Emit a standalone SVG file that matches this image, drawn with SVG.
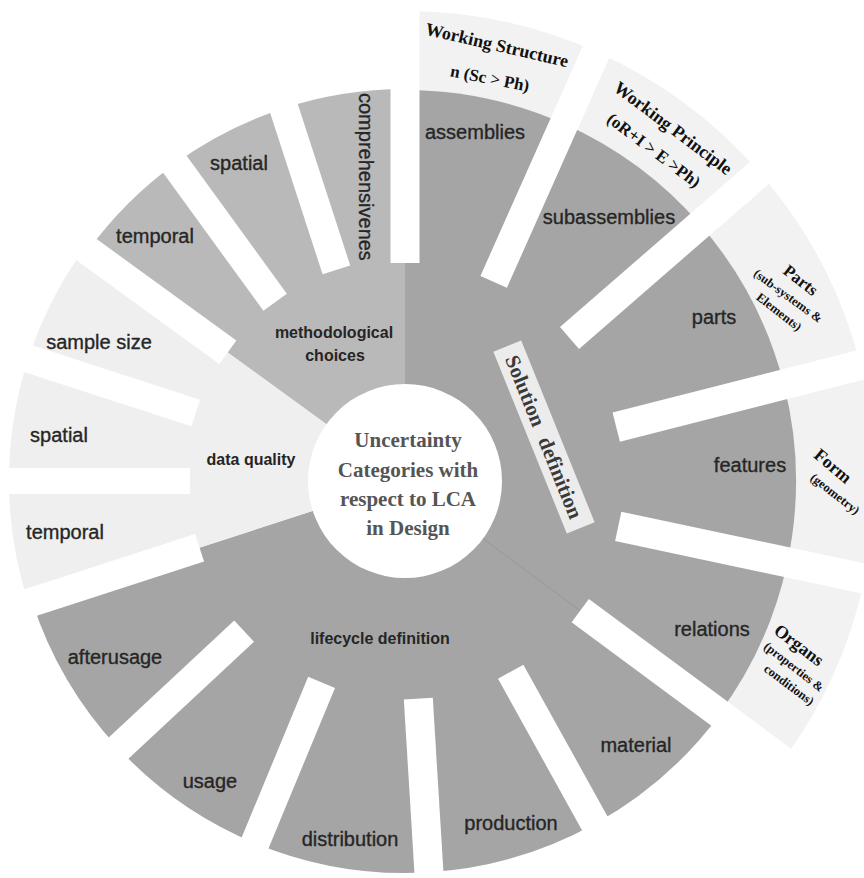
<svg xmlns="http://www.w3.org/2000/svg" width="864" height="878" viewBox="0 0 864 878">
<defs>
<style>
.dark{fill:#a5a5a5}
.mid{fill:#b9b9b9}
.light{fill:#efefef}
.hdr{fill:#f2f2f2}
.gap{fill:#ffffff}
.leaf{font-family:"Liberation Sans",Arial,sans-serif;font-size:20px;fill:#262626;stroke:#262626;stroke-width:0.35px;text-anchor:middle}
.cat{font-family:"Liberation Sans",Arial,sans-serif;font-size:16px;font-weight:bold;fill:#252525;text-anchor:middle}
.hd{font-family:"Liberation Serif","Times New Roman",serif;font-weight:bold;fill:#111111;text-anchor:middle}
.ctr{font-family:"Liberation Serif","Times New Roman",serif;font-weight:bold;font-size:21px;fill:#555555;text-anchor:middle}
</style>
<clipPath id="compClip"><rect x="320" y="60" width="90" height="209"/></clipPath>
</defs>
<rect width="864" height="878" fill="#ffffff"/>

<!-- outer header ring of solution definition -->
<g id="hdr-working-structure">
<path class="hdr" d="M405,481 L405,11 A470,470 0 0 1 596.1,51.7 Z"/>
<g transform="translate(497,45) rotate(13)"><text class="hd" font-size="18" y="6">Working Structure</text></g>
<g transform="translate(490,78) rotate(11)"><text class="hd" font-size="17" y="6">n (Sc &gt; Ph)</text></g>
</g>
<g id="hdr-working-principle">
<path class="hdr" d="M405,481 L596.1,51.7 A470,470 0 0 1 759.7,172.6 Z"/>
<g transform="translate(673,128) rotate(37)"><text class="hd" font-size="18" y="6">Working Principle</text></g>
<g transform="translate(654,150) rotate(37)"><text class="hd" font-size="17" y="6">(oR+I &gt; E &gt;Ph)</text></g>
</g>
<g id="hdr-parts">
<path class="hdr" d="M405,481 L759.7,172.6 A470,470 0 0 1 860.4,364.9 Z"/>
<g transform="translate(801,280) rotate(38)"><text class="hd" font-size="17" y="6">Parts</text></g>
<g transform="translate(788,296) rotate(36)"><text class="hd" font-size="12.5" y="4">(sub-systems &amp;</text></g>
<g transform="translate(779,312) rotate(38)"><text class="hd" font-size="12.5" y="4">Elements)</text></g>
</g>
<g id="hdr-form">
<path class="hdr" d="M405,481 L860.4,364.9 A470,470 0 0 1 864.7,578.7 Z"/>
<g transform="translate(833,466) rotate(40)"><text class="hd" font-size="18" y="6">Form</text></g>
<g transform="translate(835,494) rotate(38)"><text class="hd" font-size="12.5" y="4">(geometry)</text></g>
</g>
<g id="hdr-organs">
<path class="hdr" d="M405,481 L864.7,578.7 A470,470 0 0 1 782.8,760.6 Z"/>
<g transform="translate(799,645) rotate(37)"><text class="hd" font-size="18" y="6">Organs</text></g>
<g transform="translate(794,667) rotate(38)"><text class="hd" font-size="12.5" y="4">(properties &amp;</text></g>
<g transform="translate(789,685) rotate(37)"><text class="hd" font-size="12.5" y="4">conditions)</text></g>
</g>

<!-- solution definition leaves -->
<g id="leaf-assemblies">
<path class="dark" d="M405,481 L405,90 A391,391 0 0 1 564.0,123.8 Z"/>
<text class="leaf" x="475" y="139">assemblies</text>
</g>
<g id="leaf-subassemblies">
<path class="dark" d="M405,481 L564.0,123.8 A391,391 0 0 1 700.1,224.5 Z"/>
<text class="leaf" x="609" y="224">subassemblies</text>
</g>
<g id="leaf-parts">
<path class="dark" d="M405,481 L700.1,224.5 A391,391 0 0 1 783.9,384.4 Z"/>
<text class="leaf" x="714" y="324">parts</text>
</g>
<g id="leaf-features">
<path class="dark" d="M405,481 L783.9,384.4 A391,391 0 0 1 787.4,562.3 Z"/>
<text class="leaf" x="750" y="472">features</text>
</g>
<g id="leaf-relations">
<path class="dark" d="M405,481 L787.4,562.3 A391,391 0 0 1 719.3,713.6 Z"/>
<text class="leaf" x="712" y="636">relations</text>
</g>

<!-- lifecycle leaves -->
<g id="leaf-material">
<path class="dark" d="M405,481 L720.1,714.2 A392,392 0 0 1 595.0,823.8 Z"/>
<text class="leaf" x="636" y="752">material</text>
</g>
<g id="leaf-production">
<path class="dark" d="M405,481 L595.0,823.8 A392,392 0 0 1 428.9,872.3 Z"/>
<text class="leaf" x="511" y="830">production</text>
</g>
<g id="leaf-distribution">
<path class="dark" d="M405,481 L428.9,872.3 A392,392 0 0 1 255.0,843.2 Z"/>
<text class="leaf" x="350" y="846">distribution</text>
</g>
<g id="leaf-usage">
<path class="dark" d="M405,481 L255.0,843.2 A392,392 0 0 1 118.3,748.3 Z"/>
<text class="leaf" x="210" y="788">usage</text>
</g>
<g id="leaf-afterusage">
<path class="dark" d="M405,481 L118.3,748.3 A392,392 0 0 1 32.2,602.1 Z"/>
<text class="leaf" x="115" y="664">afterusage</text>
</g>

<!-- data quality leaves -->
<g id="leaf-dq-temporal">
<path class="light" d="M405,481 L28.4,603.4 A396,396 0 0 1 9,481 Z"/>
<text class="leaf" x="65" y="539">temporal</text>
</g>
<g id="leaf-dq-spatial">
<path class="light" d="M405,481 L9,481 A396,396 0 0 1 28.4,358.6 Z"/>
<text class="leaf" x="59" y="442">spatial</text>
</g>
<g id="leaf-sample-size">
<path class="light" d="M405,481 L28.4,358.6 A396,396 0 0 1 84.6,248.2 Z"/>
<text class="leaf" x="99" y="349">sample size</text>
</g>

<!-- methodological leaves -->
<g id="leaf-mc-temporal">
<path class="mid" d="M405,481 L87.9,250.6 A392,392 0 0 1 174.6,163.9 Z"/>
<text class="leaf" x="155" y="243">temporal</text>
</g>
<g id="leaf-mc-spatial">
<path class="mid" d="M405,481 L174.6,163.9 A392,392 0 0 1 283.9,108.2 Z"/>
<text class="leaf" x="239" y="170">spatial</text>
</g>
<g id="leaf-comprehensiveness">
<path class="mid" d="M405,481 L283.9,108.2 A392,392 0 0 1 405,89 Z"/>
<g clip-path="url(#compClip)"><text class="leaf" style="text-anchor:start" transform="translate(359,93) rotate(90)">comprehensiveness</text></g>
</g>

<!-- categories -->
<g id="cat-solution-definition">
<path class="dark" d="M405,481 L405,256 A225,225 0 0 1 585.9,614.8 Z"/>
</g>
<g id="cat-lifecycle-definition">
<path class="dark" d="M405,481 L585.9,614.8 A225,225 0 0 1 191.0,550.5 Z"/>
<line x1="483" y1="538.7" x2="580.2" y2="610.7" stroke="#8e8e8e" stroke-width="1" stroke-opacity="0.6"/>
<text class="cat" x="380" y="644">lifecycle definition</text>
</g>
<g id="cat-data-quality">
<path class="light" d="M405,481 L191.0,550.5 A225,225 0 0 1 223.0,348.7 Z"/>
<text class="cat" x="251" y="465">data quality</text>
</g>
<g id="cat-methodological-choices">
<path class="mid" d="M405,481 L223.0,348.7 A225,225 0 0 1 405,256 Z"/>
<text class="cat" x="334" y="338">methodological</text>
<text class="cat" x="335" y="361">choices</text>
</g>

<!-- white gaps between segments -->
<g id="gaps">
<rect class="gap" x="218" y="-14.5" width="300" height="29" transform="translate(405,481) rotate(-90)"/>
<rect class="gap" x="218" y="-14.5" width="300" height="29" transform="translate(405,481) rotate(-66)"/>
<rect class="gap" x="218" y="-14.5" width="300" height="29" transform="translate(405,481) rotate(-41)"/>
<rect class="gap" x="218" y="-15" width="300" height="30" transform="translate(405,481) rotate(-14.3)"/>
<rect class="gap" x="218" y="-15" width="300" height="30" transform="translate(405,481) rotate(12)"/>
<rect class="gap" x="218" y="-14.5" width="300" height="29" transform="translate(405,481) rotate(36.5)"/>
<rect class="gap" x="218" y="-14.5" width="300" height="29" transform="translate(405,481) rotate(61)"/>
<rect class="gap" x="218" y="-14.5" width="300" height="29" transform="translate(405,481) rotate(86.5)"/>
<rect class="gap" x="218" y="-14.5" width="300" height="29" transform="translate(405,481) rotate(112.5)"/>
<rect class="gap" x="220" y="-14.5" width="300" height="29" transform="translate(405,481) rotate(137)"/>
<rect class="gap" x="216" y="-14.5" width="300" height="29" transform="translate(405,481) rotate(162)"/>
<rect class="gap" x="215" y="-13" width="300" height="26" transform="translate(405,481) rotate(180)"/>
<rect class="gap" x="220" y="-14" width="300" height="28" transform="translate(405,481) rotate(198)"/>
<rect class="gap" x="219" y="-14.5" width="300" height="29" transform="translate(405,481) rotate(216)"/>
<rect class="gap" x="221" y="-14.5" width="300" height="29" transform="translate(405,481) rotate(234)"/>
<rect class="gap" x="222" y="-14.5" width="300" height="29" transform="translate(405,481) rotate(252)"/>
</g>

<!-- solution definition label box -->
<g id="label-solution-definition" transform="translate(544,437) rotate(68)">
<rect x="-98" y="-15" width="196" height="30" fill="#ececec"/>
<text class="hd" font-size="21" y="7" style="fill:#3a3a3a" word-spacing="8">Solution definition</text>
</g>

<!-- centre -->
<g id="center">
<circle cx="405" cy="481" r="97" fill="#ffffff"/>
<text class="ctr" x="408" y="447">Uncertainty</text>
<text class="ctr" x="408" y="477">Categories with</text>
<text class="ctr" x="408" y="506">respect to LCA</text>
<text class="ctr" x="408" y="535">in Design</text>
</g>
</svg>
